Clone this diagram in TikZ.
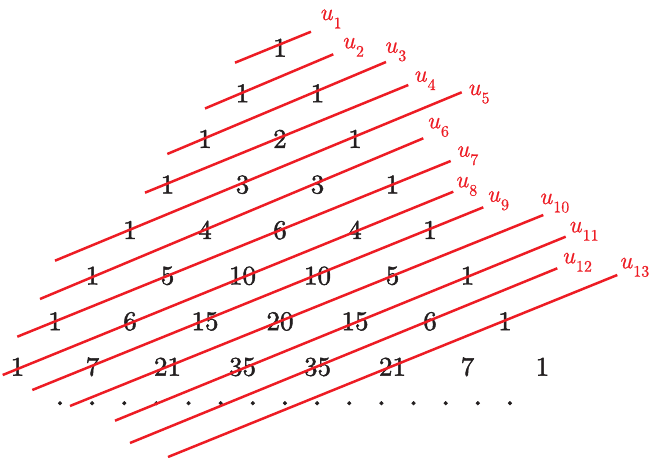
\documentclass[tikz,border=0pt]{standalone}
\usepackage{fontspec}
\newfontfamily\numfont{lmroman10-regular.otf}[FakeBold=1.6]
\newfontfamily\labfont{lmroman10-italic.otf}[FakeBold=0.6]
\newfontfamily\subfont{lmroman10-regular.otf}[FakeBold=0.6]
\definecolor{ured}{RGB}{237,28,36}
\definecolor{numc}{RGB}{35,31,32}
\newcommand{\ulab}[1]{{\labfont u}\kern1.2pt\raisebox{-8.3pt}{\subfont\fontsize{16}{18}\selectfont #1}}
\begin{document}
\begin{tikzpicture}[x=1pt,y=-1pt,
  num/.style={font=\numfont\fontsize{27}{30}\selectfont, text=numc, anchor=base, inner sep=0pt},
  dotmark/.style={font=\numfont\fontsize{34}{36}\selectfont, text=numc, anchor=base, inner sep=0pt},
  ulabel/.style={font=\fontsize{24}{28}\selectfont, text=ured, anchor=base west, inner sep=0pt},
  uline/.style={draw=ured, line width=2.5pt}]
\useasboundingbox (0,0) rectangle (649,458);
% Pascal triangle
\foreach \row [count=\r from 0] in {{1},{1,1},{1,2,1},{1,3,3,1},{1,4,6,4,1},{1,5,10,10,5,1},{1,6,15,20,15,6,1},{1,7,21,35,35,21,7,1}} {
  \foreach \v [count=\k from 0] in \row {
    \node[num] (n\r-\k) at ({280+(2*\k-\r)*37.5}, {56.7+\r*45.57}) {\v};
  }
}
% dots
\foreach \i in {0,...,14} {
  \node[dotmark] (d\i) at ({60+\i*32.14}, 405) {.};
}
% lines u_n: start / end / label position
\foreach \n/\xa/\ya/\xb/\yb/\lx/\ly in {
  1/235/62.7/311/31.7/319.3/20,
  2/205/108.5/333.3/54.3/341.7/48.3,
  3/167.3/154/386/62/384/52.7,
  4/145/192.7/408.3/85/413.3/81.7,
  5/55/260.7/461.7/92.3/467.3/95,
  6/40/299/423.3/138.3/426.7/128.3,
  7/17.3/336.7/450.7/161/456/156.7,
  8/2.7/375/453.3/191.7/455/187.3,
  9/32.3/390/483.3/207.3/486.7/201.7,
  10/70/406/543.3/215/539/204,
  11/115/420.7/565.7/236.7/568.3/232.3,
  12/130/443/557.3/268.3/561.7/263.3,
  13/168/457/617.3/275/619/268.3} {
  \coordinate (s\n) at (\xa,\ya);
  \coordinate (e\n) at (\xb,\yb);
  \draw[uline] (s\n) -- (e\n);
  \node[ulabel] (u\n) at (\lx,\ly) {\ulab{\n}};
}
\end{tikzpicture}
\end{document}
